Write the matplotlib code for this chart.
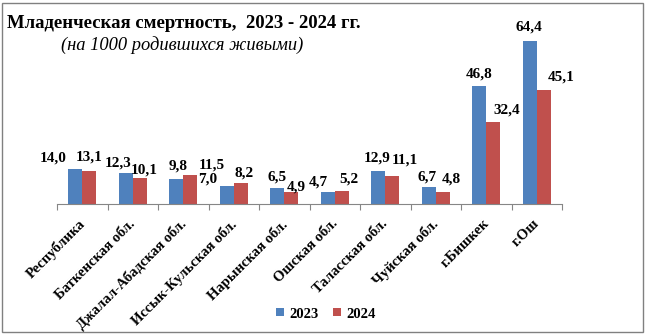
import numpy as np
import matplotlib
matplotlib.use("Agg")
import matplotlib.pyplot as plt
from matplotlib.patches import Rectangle

regions = ["Республика", "Баткенская обл.", "Джалал-Абадская обл.", "Иссык-Кульская обл.",
           "Нарынская обл.", "Ошская обл.", "Таласская обл.", "Чуйская обл.",
           "г.Бишкек", "г.Ош"]
v2023 = [14.0, 12.3, 9.8, 7.0, 6.5, 4.7, 12.9, 6.7, 46.8, 64.4]
v2024 = [13.1, 10.1, 11.5, 8.2, 4.9, 5.2, 11.1, 4.8, 32.4, 45.1]

# label offsets (pixels) to mimic the spread of labels in the original
dx23 = [-22, -8, 2, -19, 0, -9, -1, -2, 0, -1]
dy23 = [11, 10, 13, 7, 11, 10, 13, 10, 12, 14]
dx24 = [0, 4, 21, 3, 5, 7, 13, 8, 13, 17]
dy24 = [14, 8, 10, 10, 5, 12, 16, 13, 12, 13]

blue = "#4F81BD"
red = "#C0504D"
plt.rcParams['font.family'] = ['Liberation Serif', 'DejaVu Serif']

fig = plt.figure(figsize=(6.46, 3.35), dpi=100)
ax = fig.add_axes([57/646, 1-204/335, 505/646, 177/335])

x = np.arange(len(regions))
w = 0.28
b1 = ax.bar(x - w/2, v2023, w, color=blue, label="2023")
b2 = ax.bar(x + w/2, v2024, w, color=red, label="2024")

def fmt(v):
    return f"{v:.1f}".replace(".", ",")

for i in range(len(regions)):
    ax.annotate(fmt(v2023[i]), (x[i] - w/2, v2023[i]), xytext=(dx23[i]*0.72, dy23[i]*0.72),
                textcoords="offset points", ha="center", va="center",
                fontsize=11, fontweight="bold")
    ax.annotate(fmt(v2024[i]), (x[i] + w/2, v2024[i]), xytext=(dx24[i]*0.72, dy24[i]*0.72),
                textcoords="offset points", ha="center", va="center",
                fontsize=11, fontweight="bold")

ax.set_xlim(-0.5, len(regions) - 0.5)
ax.set_ylim(0, 70)
ax.set_yticks([])
for s in ["top", "right", "left"]:
    ax.spines[s].set_visible(False)
ax.spines["bottom"].set_color("#868686")
ax.set_xticks(np.arange(len(regions) + 1) - 0.5)
ax.set_xticklabels([])
ax.tick_params(axis="x", direction="out", length=4, color="#868686")
for i, r in enumerate(regions):
    ax.text(x[i] - 0.08, -5.2, r, rotation=45, rotation_mode="anchor",
            ha="right", va="top", fontsize=10.5, fontweight="bold")

fig.text(7/646, 1-28/335, "Младенческая смертность,  2023 - 2024 гг.",
         fontsize=13.5, fontweight="bold", ha="left", va="baseline")
fig.text(61/646, 1-50/335, "(на 1000 родившихся живыми)",
         fontsize=13.3, fontstyle="italic", ha="left", va="baseline")

fig.legend(handles=[b1, b2], loc="center", bbox_to_anchor=(326/646, 1-314/335),
           ncol=2, frameon=False, handlelength=0.5, handleheight=0.5,
           handletextpad=0.4, columnspacing=1.0,
           prop={"weight": "bold", "size": 10.5})

fig.patches.append(Rectangle((2/646, 3/335), 641/646, 329/335, transform=fig.transFigure,
                             fill=False, edgecolor="#808080", linewidth=1))

fig.savefig("out.png", dpi=100)
